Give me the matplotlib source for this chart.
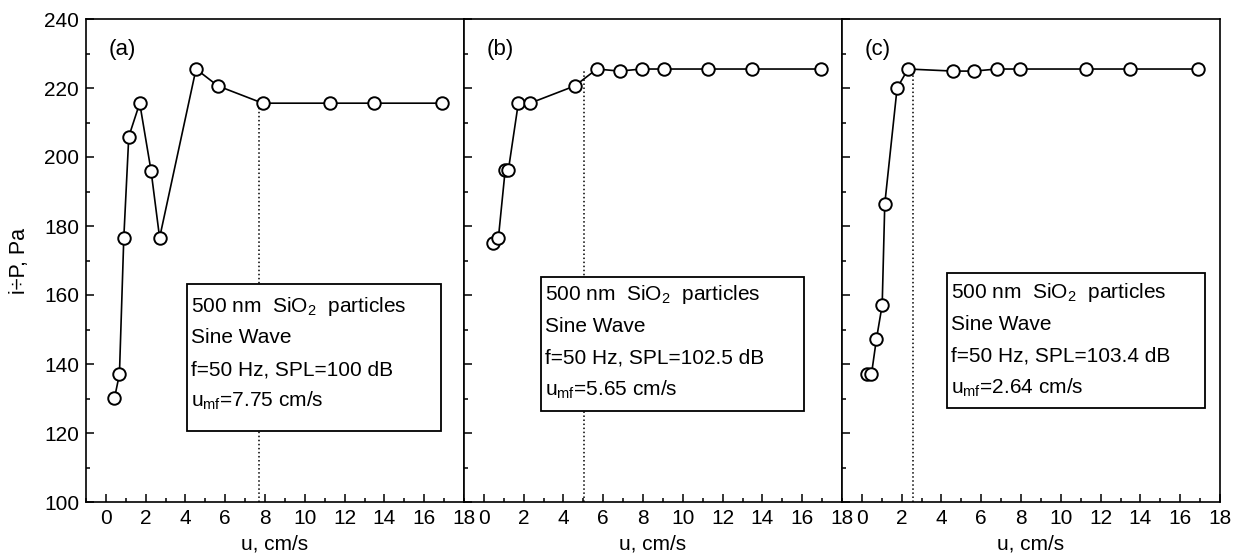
import numpy as np
import matplotlib.pyplot as plt
from matplotlib.patches import Rectangle
from matplotlib.ticker import MultipleLocator

plt.rcParams['font.family'] = ['Liberation Sans', 'DejaVu Sans']
plt.rcParams['mathtext.default'] = 'regular'

# panel (a): SPL = 100 dB
u_a = [0.43, 0.68, 0.9, 1.15, 1.7, 2.27, 2.7, 4.53, 5.63, 7.88, 11.27, 13.5, 16.9]
p_a = [130.1, 137.0, 176.6, 205.9, 215.6, 196.0, 176.6, 225.5, 220.6, 215.6, 215.6, 215.6, 215.6]
# panel (b): SPL = 102.5 dB
u_b = [0.47, 0.73, 1.07, 1.23, 1.73, 2.32, 4.57, 5.68, 6.82, 7.93, 9.05, 11.27, 13.5, 16.93]
p_b = [175.2, 176.6, 196.2, 196.2, 215.6, 215.6, 220.6, 225.5, 224.9, 225.5, 225.5, 225.5, 225.5, 225.5]
# panel (c): SPL = 103.4 dB
u_c = [0.27, 0.48, 0.73, 1.02, 1.15, 1.77, 2.32, 4.6, 5.65, 6.77, 7.93, 11.27, 13.5, 16.9]
p_c = [137.0, 137.0, 147.2, 157.1, 186.4, 220.0, 225.5, 224.9, 224.9, 225.5, 225.5, 225.5, 225.5, 225.5]

# dotted marker of u_mf as drawn
umf_x = [7.68, 5.05, 2.55]
umf_top = [215.6, 224.8, 225.2]

letters = ['(a)', '(b)', '(c)']
spl = ['100', '102.5', '103.4']
umf = ['7.75', '5.65', '2.64']

fig = plt.figure(figsize=(12.36, 5.56), dpi=100)
W, H = 1236, 556
lefts = [86, 464, 842]
bot, top = 502, 19
aw = 378

# box corners in data units (x0, x1, y_bottom, y_top)
boxes = [(4.1, 16.85, 120.7, 163.2), (2.89, 16.08, 126.5, 165.3), (4.27, 17.27, 127.2, 166.3)]
first_line = [156.8, 160.0, 160.6]

axes = []
for i, (u, p) in enumerate([(u_a, p_a), (u_b, p_b), (u_c, p_c)]):
    ax = fig.add_axes([lefts[i] / W, (H - bot) / H, aw / W, (bot - top) / H])
    axes.append(ax)
    ax.plot(u, p, '-', color='k', lw=1.2, marker='o', ms=9, mfc='white',
            mec='k', mew=1.4, zorder=3)
    ax.plot([umf_x[i], umf_x[i]], [100, umf_top[i]], ls=':', color='k', lw=1.1, zorder=2)
    ax.set_xlim(-1, 18)
    ax.set_ylim(100, 240)
    ax.xaxis.set_major_locator(MultipleLocator(2))
    ax.xaxis.set_minor_locator(MultipleLocator(1))
    ax.yaxis.set_major_locator(MultipleLocator(20))
    ax.yaxis.set_minor_locator(MultipleLocator(10))
    ax.tick_params(which='both', direction='in', top=False, right=False, labelsize=15, width=1.1)
    ax.tick_params(which='major', length=6, pad=5)
    ax.tick_params(which='minor', length=3)
    for s in ax.spines.values():
        s.set_linewidth(1.2)
    if i > 0:
        ax.set_yticklabels([])
    ax.set_xlabel('u, cm/s', fontsize=15, labelpad=5)
    ax.text(0.095, 0.936, letters[i], transform=ax.transAxes, fontsize=16,
            ha='center', va='center')

    x0, x1, y0, y1 = boxes[i]
    ax.add_patch(Rectangle((x0, y0), x1 - x0, y1 - y0, fill=True, fc='white',
                           ec='k', lw=1.3, zorder=4))
    lines = ['500 nm  SiO$_2$  particles', 'Sine Wave',
             'f=50 Hz, SPL=%s dB' % spl[i], 'u$_{mf}$=%s cm/s' % umf[i]]
    for j, t in enumerate(lines):
        ax.text(x0 + 0.2, first_line[i] - j * 9.2, t, fontsize=15,
                ha='left', va='center', zorder=5)

axes[0].set_ylabel('i÷P, Pa', fontsize=15.5, labelpad=10)

fig.savefig('out.png', dpi=100)
